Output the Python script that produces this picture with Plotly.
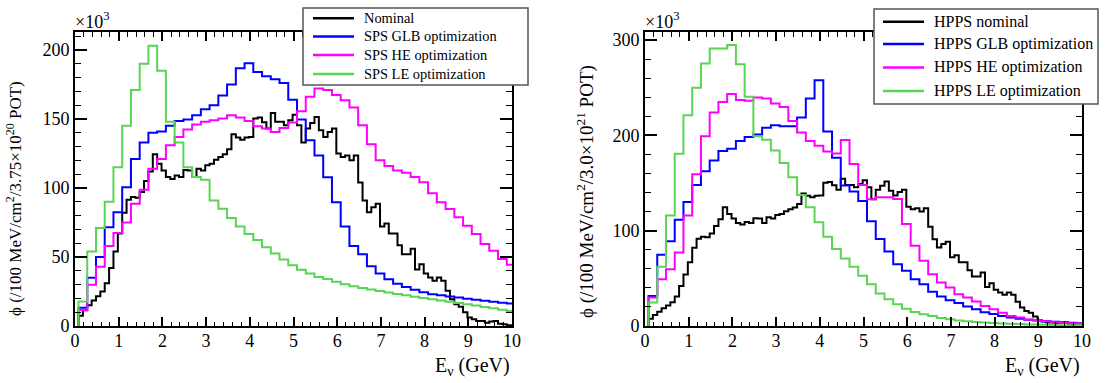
import plotly.graph_objects as go

# ---------------- data (flux in units of 10^3) ----------------
coarse_start = 0.08   # GeV, first bin edge of the 0.2 GeV histograms
coarse_width = 0.2
fine_start = 0.08     # GeV, first bin edge of the 0.1 GeV nominal histogram
fine_width = 0.1

nominal_flux = [
    7.5, 11.5, 15, 18.5, 21.5, 25, 31, 42, 54, 67,
    82, 91.5, 93.5, 93, 97, 105, 112, 124.5, 117.6, 112.7,
    108, 106.5, 109, 108, 113, 112.7, 108, 114, 112.7, 116.4,
    117.6, 120.5, 122.4, 124.4, 128, 139, 136.5, 135, 136.5, 137,
    150.3, 151, 147.6, 143, 154.4, 148, 148, 145.5, 149, 153,
    145.5, 133, 143, 147, 151.5, 141.8, 137, 140.6, 143, 125,
    122.4, 123.6, 120, 123.6, 104, 91, 82.4, 86, 88.5, 72,
    74.3, 67, 67, 58.5, 52, 52, 56, 41, 44.8, 38,
    35.2, 32.7, 35.2, 32.7, 25.5, 19.4, 15.8, 14, 10, 6.1,
    4.8, 3.6, 3.6, 2.4, 3.2, 3.6, 1.6, 1.2, 0.6, 0.3,
]

sps_glb = [
    13.3, 35, 50, 71.5, 82.4, 100.6, 121, 133, 140, 141,
    145, 148.6, 149.6, 152.7, 157, 160, 167, 175, 186.7, 190.3,
    184, 181, 178.7, 176, 164, 149.6, 134.5, 123.6, 107.8, 89.6,
    72, 58, 52, 43.2, 38, 33.9, 30.7, 28.2, 26.3, 24.5,
    23, 22.2, 21.4, 20.6, 19.8, 19, 18.3, 17.6, 16.9, 16.3,
]
sps_he = [
    11.6, 29.8, 43, 58, 67.4, 75, 88.5, 98.7, 114, 121,
    131, 137, 142.3, 146, 148, 149, 150.3, 152.7, 151, 148.6,
    144.7, 143, 140.6, 143.5, 147.5, 155.5, 166, 172, 170.9, 167.3,
    163.6, 158.3, 145.5, 131.6, 120, 115.9, 112.7, 111, 107.9, 104.2,
    96.2, 89.7, 84.8, 78.8, 72.7, 66.7, 59.4, 54.5, 48.5, 44.4,
]
sps_le = [
    17.7, 54, 71, 90, 115, 145, 171, 190, 203, 185,
    148, 133, 115, 108, 106, 91, 85, 78.3, 72, 66.7,
    62.3, 57, 52.6, 48.2, 44.1, 40.7, 38, 35.5, 34, 32,
    30.3, 28.8, 27.6, 26.5, 25.3, 24.2, 23.2, 22.2, 21.2, 20.2,
    19.3, 18.4, 17.5, 16.6, 15.7, 14.8, 13.8, 12.8, 11.8, 10.8,
]

hpps_nominal = nominal_flux
hpps_glb = [
    31.6, 74.7, 88.8, 111.5, 130, 148, 162.3, 173.5, 183.5, 186,
    194, 198.2, 201, 208, 210.5, 209.5, 209.5, 218.6, 238.6, 257.9,
    204, 176.5, 147.5, 141, 131, 110, 91.2, 78.2, 64.9, 57.9,
    49.1, 43.9, 36, 31, 27, 24, 20.5, 17.5, 14.5, 12.5,
    10.5, 8.9, 7.6, 6.6, 5.8, 5, 4.4, 3.9, 3.4, 2.8,
]
hpps_he = [
    30, 49.1, 59.6, 77, 115.8, 159.3, 199, 224, 235, 243.3,
    237, 236.3, 239.6, 238.6, 233.5, 229.8, 215, 203, 194, 189,
    183, 181, 195, 170, 148, 133, 135, 135, 133.3, 107,
    84.2, 68.4, 54.4, 45.6, 40.4, 33.3, 29.8, 25.6, 21, 17.5,
    14, 10.5, 8.8, 6.7, 6, 4.9, 3.9, 3.2, 2.8, 2.5,
]
hpps_le = [
    24.6, 62.1, 115.8, 180.7, 221, 250, 275.4, 291.2, 291.2, 294.7,
    274.7, 240.4, 199, 195.4, 184, 171, 156, 137.5, 124.6, 108.8,
    93.7, 80.7, 70.9, 62.1, 52.6, 43.9, 34, 28.1, 22.8, 18.2,
    14.7, 12.3, 10.5, 8.5, 7, 5.8, 4.9, 4.2, 3.6, 3.1,
    2.7, 2.3, 2, 1.7, 1.5, 1.3, 1.1, 0.9, 0.8, 0.7,
]

left_names = ["Nominal", "SPS GLB optimization", "SPS HE optimization", "SPS LE optimization"]
right_names = ["HPPS nominal", "HPPS GLB optimization", "HPPS HE optimization", "HPPS LE optimization"]
left_ytitle = "ϕ (/100 MeV/cm<sup>2</sup>/3.75×10<sup>20</sup> POT)"
right_ytitle = "ϕ (/100 MeV/cm<sup>2</sup>/3.0×10<sup>21</sup> POT)"
xtitle = "E<sub>ν</sub> (GeV)"

# ---------------- styling ----------------
W, H = 1115, 383
FONT = "Liberation Serif"
colors = ["#000000", "#0000ff", "#ff00ff", "#59d454"]


def px_x(p):
    return p / W


def px_y(p):
    return 1 - p / H


def step_trace(values, start, width, color, name, xa, ya):
    n = len(values)
    edges = [start + width * k for k in range(n + 1)]
    xs = [edges[0]] + edges
    ys = [0] + list(values) + [values[-1]]
    return go.Scatter(x=xs, y=ys, mode="lines", name=name,
                      line=dict(color=color, width=2, shape="hv"),
                      xaxis=xa, yaxis=ya, showlegend=False, hoverinfo="skip")


fig = go.Figure()
left_sets = [(nominal_flux, fine_start, fine_width), (sps_glb, coarse_start, coarse_width),
             (sps_he, coarse_start, coarse_width), (sps_le, coarse_start, coarse_width)]
right_sets = [(hpps_nominal, fine_start, fine_width), (hpps_glb, coarse_start, coarse_width),
              (hpps_he, coarse_start, coarse_width), (hpps_le, coarse_start, coarse_width)]
for (vals, s, w), c, nm in zip(left_sets, colors, left_names):
    fig.add_trace(step_trace(vals, s, w, c, nm, "x", "y"))
for (vals, s, w), c, nm in zip(right_sets, colors, right_names):
    fig.add_trace(step_trace(vals, s, w, c, nm, "x2", "y2"))

plot_top, plot_bottom = 32, 326
ydom = [px_y(plot_bottom), px_y(plot_top)]

axis_common = dict(showline=True, linecolor="black", linewidth=2, mirror="allticks",
                   ticks="inside", tickcolor="black", tickwidth=1.5,
                   showgrid=False, zeroline=False,
                   tickfont=dict(family=FONT, size=18, color="black"))

xcommon = dict(axis_common, range=[0, 10], tick0=0, dtick=1, ticklen=9,
               ticklabelstandoff=-3,
               minor=dict(ticks="inside", dtick=0.2, ticklen=4.5, tickcolor="black",
                          tickwidth=1.2, showgrid=False))

# legend boxes (drawn over the frame like the ROOT TLegend)
shapes = [
    dict(type="rect", xref="paper", yref="paper", layer="above",
         x0=px_x(303), x1=px_x(528), y0=px_y(85), y1=px_y(8),
         fillcolor="white", line=dict(color="#555555", width=1.5)),
    dict(type="rect", xref="paper", yref="paper", layer="above",
         x0=px_x(874), x1=px_x(1098), y0=px_y(104), y1=px_y(9),
         fillcolor="white", line=dict(color="#555555", width=1.5)),
]

ann_font = dict(family=FONT, color="black")
annotations = []

legend_specs = [
    # names, line x0, line x1, text x, row centres, font size
    (left_names, 313, 354, 362, [18.3, 36.5, 55, 74], 14.4),
    (right_names, 883, 924, 932, [21.7, 44, 67.5, 91], 16),
]
for names, lx0, lx1, tx, rows, fs in legend_specs:
    for nm, c, yc in zip(names, colors, rows):
        shapes.append(dict(type="line", xref="paper", yref="paper", layer="above",
                           x0=px_x(lx0), x1=px_x(lx1), y0=px_y(yc), y1=px_y(yc),
                           line=dict(color=c, width=2.5)))
        annotations.append(dict(text=nm, x=px_x(tx), y=px_y(yc), xanchor="left",
                                yanchor="middle", font=dict(ann_font, size=fs)))

fig.update_layout(
    width=W, height=H,
    margin=dict(l=0, r=0, t=0, b=0, autoexpand=False),
    paper_bgcolor="white", plot_bgcolor="white",
    showlegend=False,
    xaxis=dict(xcommon, domain=[px_x(75), px_x(512)], anchor="y"),
    yaxis=dict(axis_common, domain=ydom, anchor="x", range=[0, 213], tick0=0, dtick=50,
               ticklen=12, minor=dict(ticks="inside", dtick=10, ticklen=6, tickcolor="black",
                                      tickwidth=1.2, showgrid=False)),
    xaxis2=dict(xcommon, domain=[px_x(645), px_x(1082)], anchor="y2"),
    yaxis2=dict(axis_common, domain=ydom, anchor="x2", range=[0, 308.4], tick0=0, dtick=100,
                ticklen=12, minor=dict(ticks="inside", dtick=20, ticklen=6, tickcolor="black",
                                       tickwidth=1.2, showgrid=False)),
    shapes=shapes,
)

annotations += [
    dict(text="×10<sup>3</sup>", x=px_x(73), y=px_y(20), xanchor="left", yanchor="middle",
         font=dict(ann_font, size=18)),
    dict(text="×10<sup>3</sup>", x=px_x(643), y=px_y(20), xanchor="left", yanchor="middle",
         font=dict(ann_font, size=18)),
    dict(text=left_ytitle, x=px_x(14), y=px_y(199), textangle=-90, xanchor="center",
         yanchor="middle", font=dict(ann_font, size=17)),
    dict(text=right_ytitle, x=px_x(586), y=px_y(192), textangle=-90, xanchor="center",
         yanchor="middle", font=dict(ann_font, size=19)),
    dict(text=xtitle, x=px_x(512), y=px_y(366), xanchor="right", yanchor="middle",
         font=dict(ann_font, size=20)),
    dict(text=xtitle, x=px_x(1082), y=px_y(366), xanchor="right", yanchor="middle",
         font=dict(ann_font, size=20)),
]
for a in annotations:
    a.update(xref="paper", yref="paper", showarrow=False)
fig.update_layout(annotations=annotations)

fig.write_html("out.html", config={"displayModeBar": False})
